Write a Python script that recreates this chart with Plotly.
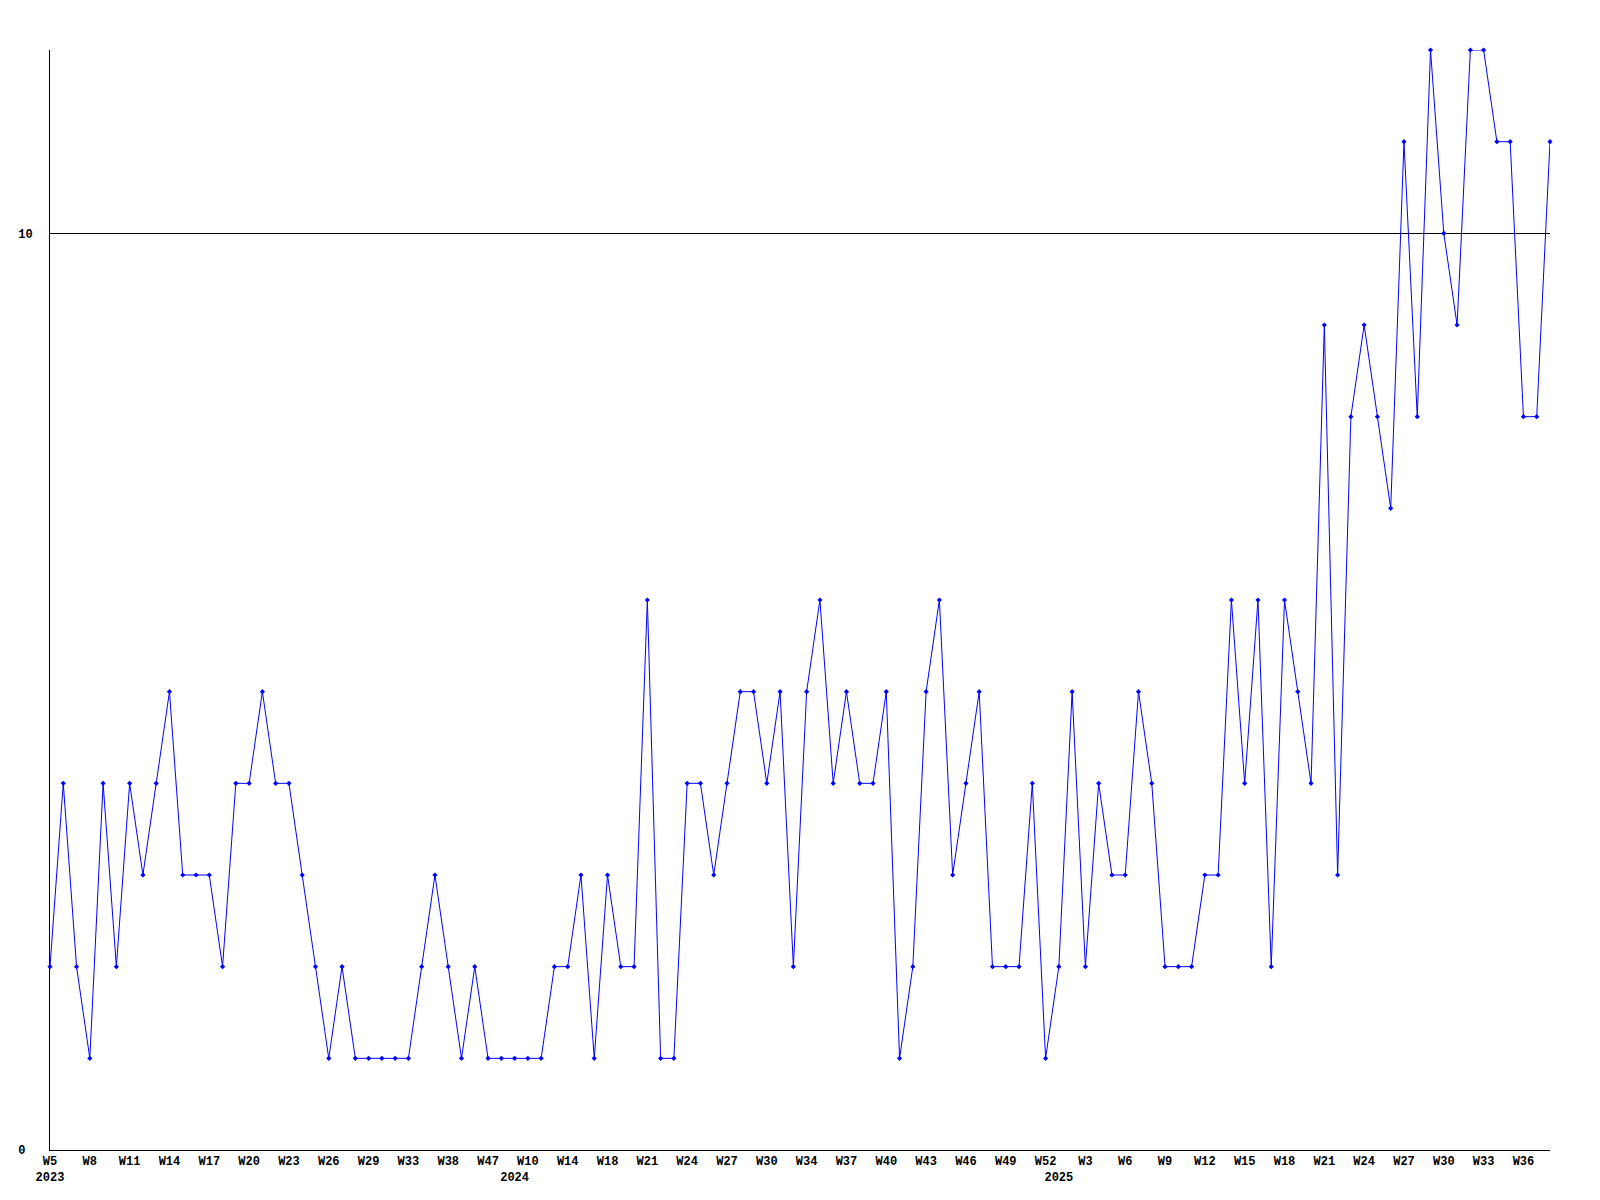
import plotly.graph_objects as go

# Weekly values (points are evenly spaced, one per reported week)
values = [
    2, 4, 2, 1, 4, 2, 4, 3, 4, 5,
    3, 3, 3, 2, 4, 4, 5, 4, 4, 3,
    2, 1, 2, 1, 1, 1, 1, 1, 2, 3,
    2, 1, 2, 1, 1, 1, 1, 1, 2, 2,
    3, 1, 3, 2, 2, 6, 1, 1, 4, 4,
    3, 4, 5, 5, 4, 5, 2, 5, 6, 4,
    5, 4, 4, 5, 1, 2, 5, 6, 3, 4,
    5, 2, 2, 2, 4, 1, 2, 5, 2, 4,
    3, 3, 5, 4, 2, 2, 2, 3, 3, 6,
    4, 6, 2, 6, 5, 4, 9, 3, 8, 9,
    8, 7, 11, 8, 12, 10, 9, 12, 12, 11,
    11, 8, 8, 11,
]

# Week tick labels, shown on every third point
week_labels = [
    "W5", "W8", "W11", "W14", "W17", "W20", "W23", "W26", "W29", "W33", "W38", "W47",
    "W10", "W14", "W18", "W21", "W24", "W27", "W30", "W34", "W37", "W40", "W43", "W46",
    "W49", "W52",
    "W3", "W6", "W9", "W12", "W15", "W18", "W21", "W24", "W27", "W30", "W33", "W36",
]
label_step = 3

# Year labels, placed under the first point of each year
years = ["2023", "2024", "2025"]
year_start_index = [0, 35, 76]

# y axis labels
y_ticks = [0, 10]
y_ticktext = ["0\u00a0", "10"]

x = list(range(len(values)))

tick_map = {}
for k, lab in enumerate(week_labels):
    tick_map[k * label_step] = lab
for yr, idx in zip(years, year_start_index):
    first = tick_map.get(idx, "\u00a0")
    tick_map[idx] = first + "<br>" + yr
tickvals = sorted(tick_map)
ticktext = [tick_map[v] for v in tickvals]

fig = go.Figure()
fig.add_trace(go.Scatter(
    x=x, y=values, mode="lines+markers",
    line=dict(color="#0000ff", width=1),
    marker=dict(color="#0000ff", size=4, symbol="diamond"),
    cliponaxis=False,
    showlegend=False,
))

font = dict(family="Liberation Mono, DejaVu Sans Mono, monospace", size=12, color="black", weight="bold")

fig.update_layout(
    width=1584, height=1184,
    margin=dict(l=42, r=42, t=42, b=42, autoexpand=False),
    paper_bgcolor="white", plot_bgcolor="white",
    showlegend=False,
)
fig.update_xaxes(
    range=[0, len(values) - 1],
    tickmode="array", tickvals=tickvals, ticktext=ticktext,
    tickangle=0, tickfont=font, automargin=False,
    showline=True, linecolor="black", linewidth=1,
    showgrid=False, zeroline=False, ticks="",
)
fig.update_yaxes(
    range=[0, 12],
    tickmode="array", tickvals=y_ticks, ticktext=y_ticktext,
    tickfont=font, automargin=False,
    showline=True, linecolor="black", linewidth=1,
    showgrid=True, gridcolor="black", gridwidth=1,
    zeroline=False, ticks="", ticklabelstandoff=14,
)

fig.write_html("out.html")
